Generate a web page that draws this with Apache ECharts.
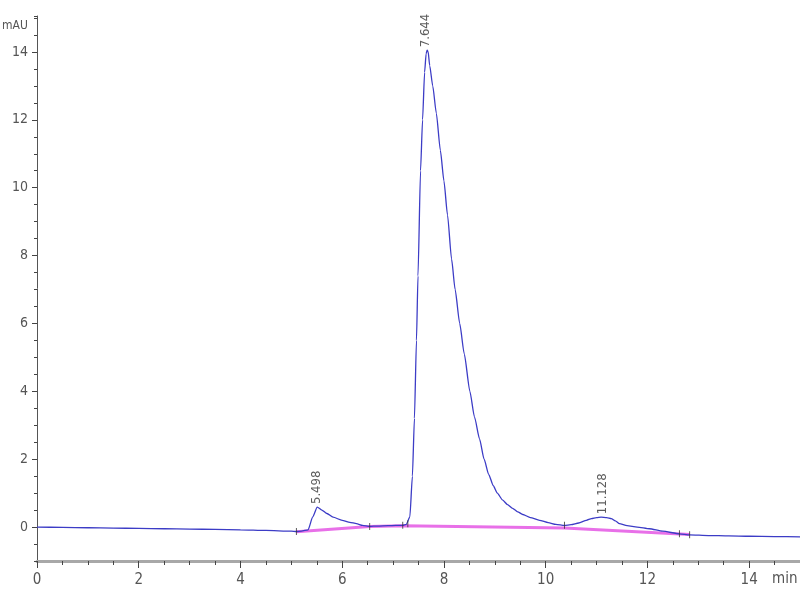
<!DOCTYPE html>
<html>
<head>
<meta charset="utf-8">
<script src="https://cdn.jsdelivr.net/npm/echarts@6/dist/echarts.min.js"></script>
<style>html,body{margin:0;padding:0;background:#fff}#c{width:800px;height:600px}</style>
</head>
<body>
<div id="c"></div>
<script>
// Retention time (min) and detector signal (mAU)
var times = [0,0.5,1,1.5,2,2.5,3,3.5,4,4.5,5,5.1,5.2,5.33,5.42,5.51,5.6,5.7,5.82,6.0,6.15,6.28,6.4,6.54,6.7,6.9,7.05,7.19,7.26,7.33,7.38,7.42,7.46,7.49,7.54,7.58,7.62,7.65,7.67,7.69,7.72,7.78,7.85,7.93,8.0,8.07,8.15,8.22,8.31,8.4,8.51,8.6,8.7,8.79,8.88,8.97,9.05,9.15,9.25,9.35,9.45,9.55,9.7,9.88,10.05,10.2,10.37,10.5,10.65,10.8,10.9,11.0,11.09,11.2,11.29,11.37,11.45,11.6,11.8,12.04,12.3,12.63,12.83,13.2,13.6,14,14.5,15];
var signal = [0.0,-0.01,-0.02,-0.03,-0.04,-0.05,-0.06,-0.07,-0.08,-0.1,-0.12,-0.13,-0.12,-0.08,0.3,0.59,0.5,0.4,0.29,0.2,0.14,0.1,0.05,0.02,0.03,0.04,0.05,0.05,0.08,0.3,1.5,3.2,5.5,7.4,10.5,12.0,13.4,13.95,14.05,14.0,13.6,13.0,12.2,11.1,10.2,9.2,7.9,7.0,6.0,5.1,4.0,3.25,2.6,2.0,1.55,1.22,1.0,0.8,0.66,0.55,0.45,0.37,0.28,0.2,0.13,0.08,0.05,0.07,0.12,0.2,0.25,0.28,0.29,0.28,0.25,0.18,0.1,0.04,0.0,-0.05,-0.12,-0.2,-0.23,-0.25,-0.26,-0.27,-0.28,-0.29];

// Integration baseline (pink)
var baseTimes = [5.1,6.54,7.19,10.37,12.83];
var baseValues = [-0.14,0.02,0.04,-0.03,-0.22];

// Integration event marks
var eventTimes = [5.1,6.54,7.19,7.29,10.37,12.63,12.83];
var eventValues = [-0.13,0.02,0.05,0.1,0.05,-0.2,-0.23];

// Peak labels
var peakTimes = [5.498,7.644,11.128];
var peakValues = [0.59,14.05,0.29];
var peakLabels = ['5.498','7.644','11.128'];

// Tick labels
var xTickLabels = [0,2,4,6,8,10,12,14];
var yTickLabels = [0,2,4,6,8,10,12,14];

var FONT = "'Liberation Sans Narrow','DejaVu Sans Condensed','Roboto Condensed','Liberation Sans',sans-serif";

function pairs(a,b){var r=[];for(var i=0;i<a.length;i++)r.push([a[i],b[i]]);return r;}

var chart = echarts.init(document.getElementById('c'), null, {renderer:'canvas'});
chart.setOption({
  animation:false,
  backgroundColor:'#ffffff',
  title:[
    {text:'mAU', left:0, top:20, padding:[0,0,0,2], textStyle:{fontSize:12, fontWeight:'normal', color:'#555', fontFamily:FONT}},
    {text:'min', left:772, top:572, padding:0, textStyle:{fontSize:15, fontWeight:'normal', color:'#555', fontFamily:FONT}}
  ],
  grid:{left:37, right:0, top:16, bottom:39, containLabel:false, outerBoundsMode:'none'},
  xAxis:[
    {type:'value', min:0, max:15, interval:0.5, position:'bottom',
     axisLine:{show:true, onZero:false, lineStyle:{color:'#a8a8a8', width:3}},
     axisTick:{show:true, length:4, lineStyle:{color:'#444', width:1}},
     axisLabel:{show:true, margin:12, fontSize:15, color:'#555', fontFamily:FONT,
       formatter:function(v){return xTickLabels.indexOf(v)>=0 ? String(v) : '';}},
     splitLine:{show:false}},
    {type:'value', min:0, max:15, position:'bottom',
     axisLine:{show:false, onZero:false},
     axisTick:{show:true, length:7, customValues:xTickLabels, lineStyle:{color:'#444', width:1}},
     axisLabel:{show:false},
     splitLine:{show:false}}
  ],
  yAxis:[
    {type:'value', min:-1, max:15.06, interval:0.5, position:'left',
     axisLine:{show:true, onZero:false, lineStyle:{color:'#555', width:1}},
     axisTick:{show:true, length:3, lineStyle:{color:'#444', width:1}},
     axisLabel:{show:true, margin:9, fontSize:14, color:'#555', fontFamily:FONT,
       formatter:function(v){return yTickLabels.indexOf(v)>=0 ? String(v) : '';}},
     splitLine:{show:false}},
    {type:'value', min:-1, max:15.06, position:'left',
     axisLine:{show:false, onZero:false},
     axisTick:{show:true, length:5, customValues:yTickLabels, lineStyle:{color:'#444', width:1}},
     axisLabel:{show:false},
     splitLine:{show:false}}
  ],
  series:[
    {type:'line', name:'baseline', data:pairs(baseTimes, baseValues), symbol:'none',
     lineStyle:{color:'#e040e0', width:3, opacity:0.75}, z:2},
    {type:'line', name:'signal', data:pairs(times, signal), symbol:'none', smooth:0.2, smoothMonotone:'x',
     lineStyle:{color:'#3c3cc6', width:1.3}, z:3},
    {type:'scatter', name:'events', data:pairs(eventTimes, eventValues), symbol:'rect', symbolSize:[1,7],
     itemStyle:{color:'#333'}, z:4, silent:true},
    {type:'scatter', name:'peaks', data:pairs(peakTimes, peakValues), symbolSize:0, z:5, silent:true,
     label:{show:true, position:'top', distance:3, rotate:90, align:'left', verticalAlign:'middle',
       fontSize:13, color:'#333', fontFamily:FONT,
       formatter:function(p){return peakLabels[p.dataIndex];}}}
  ]
});
</script>
</body>
</html>
